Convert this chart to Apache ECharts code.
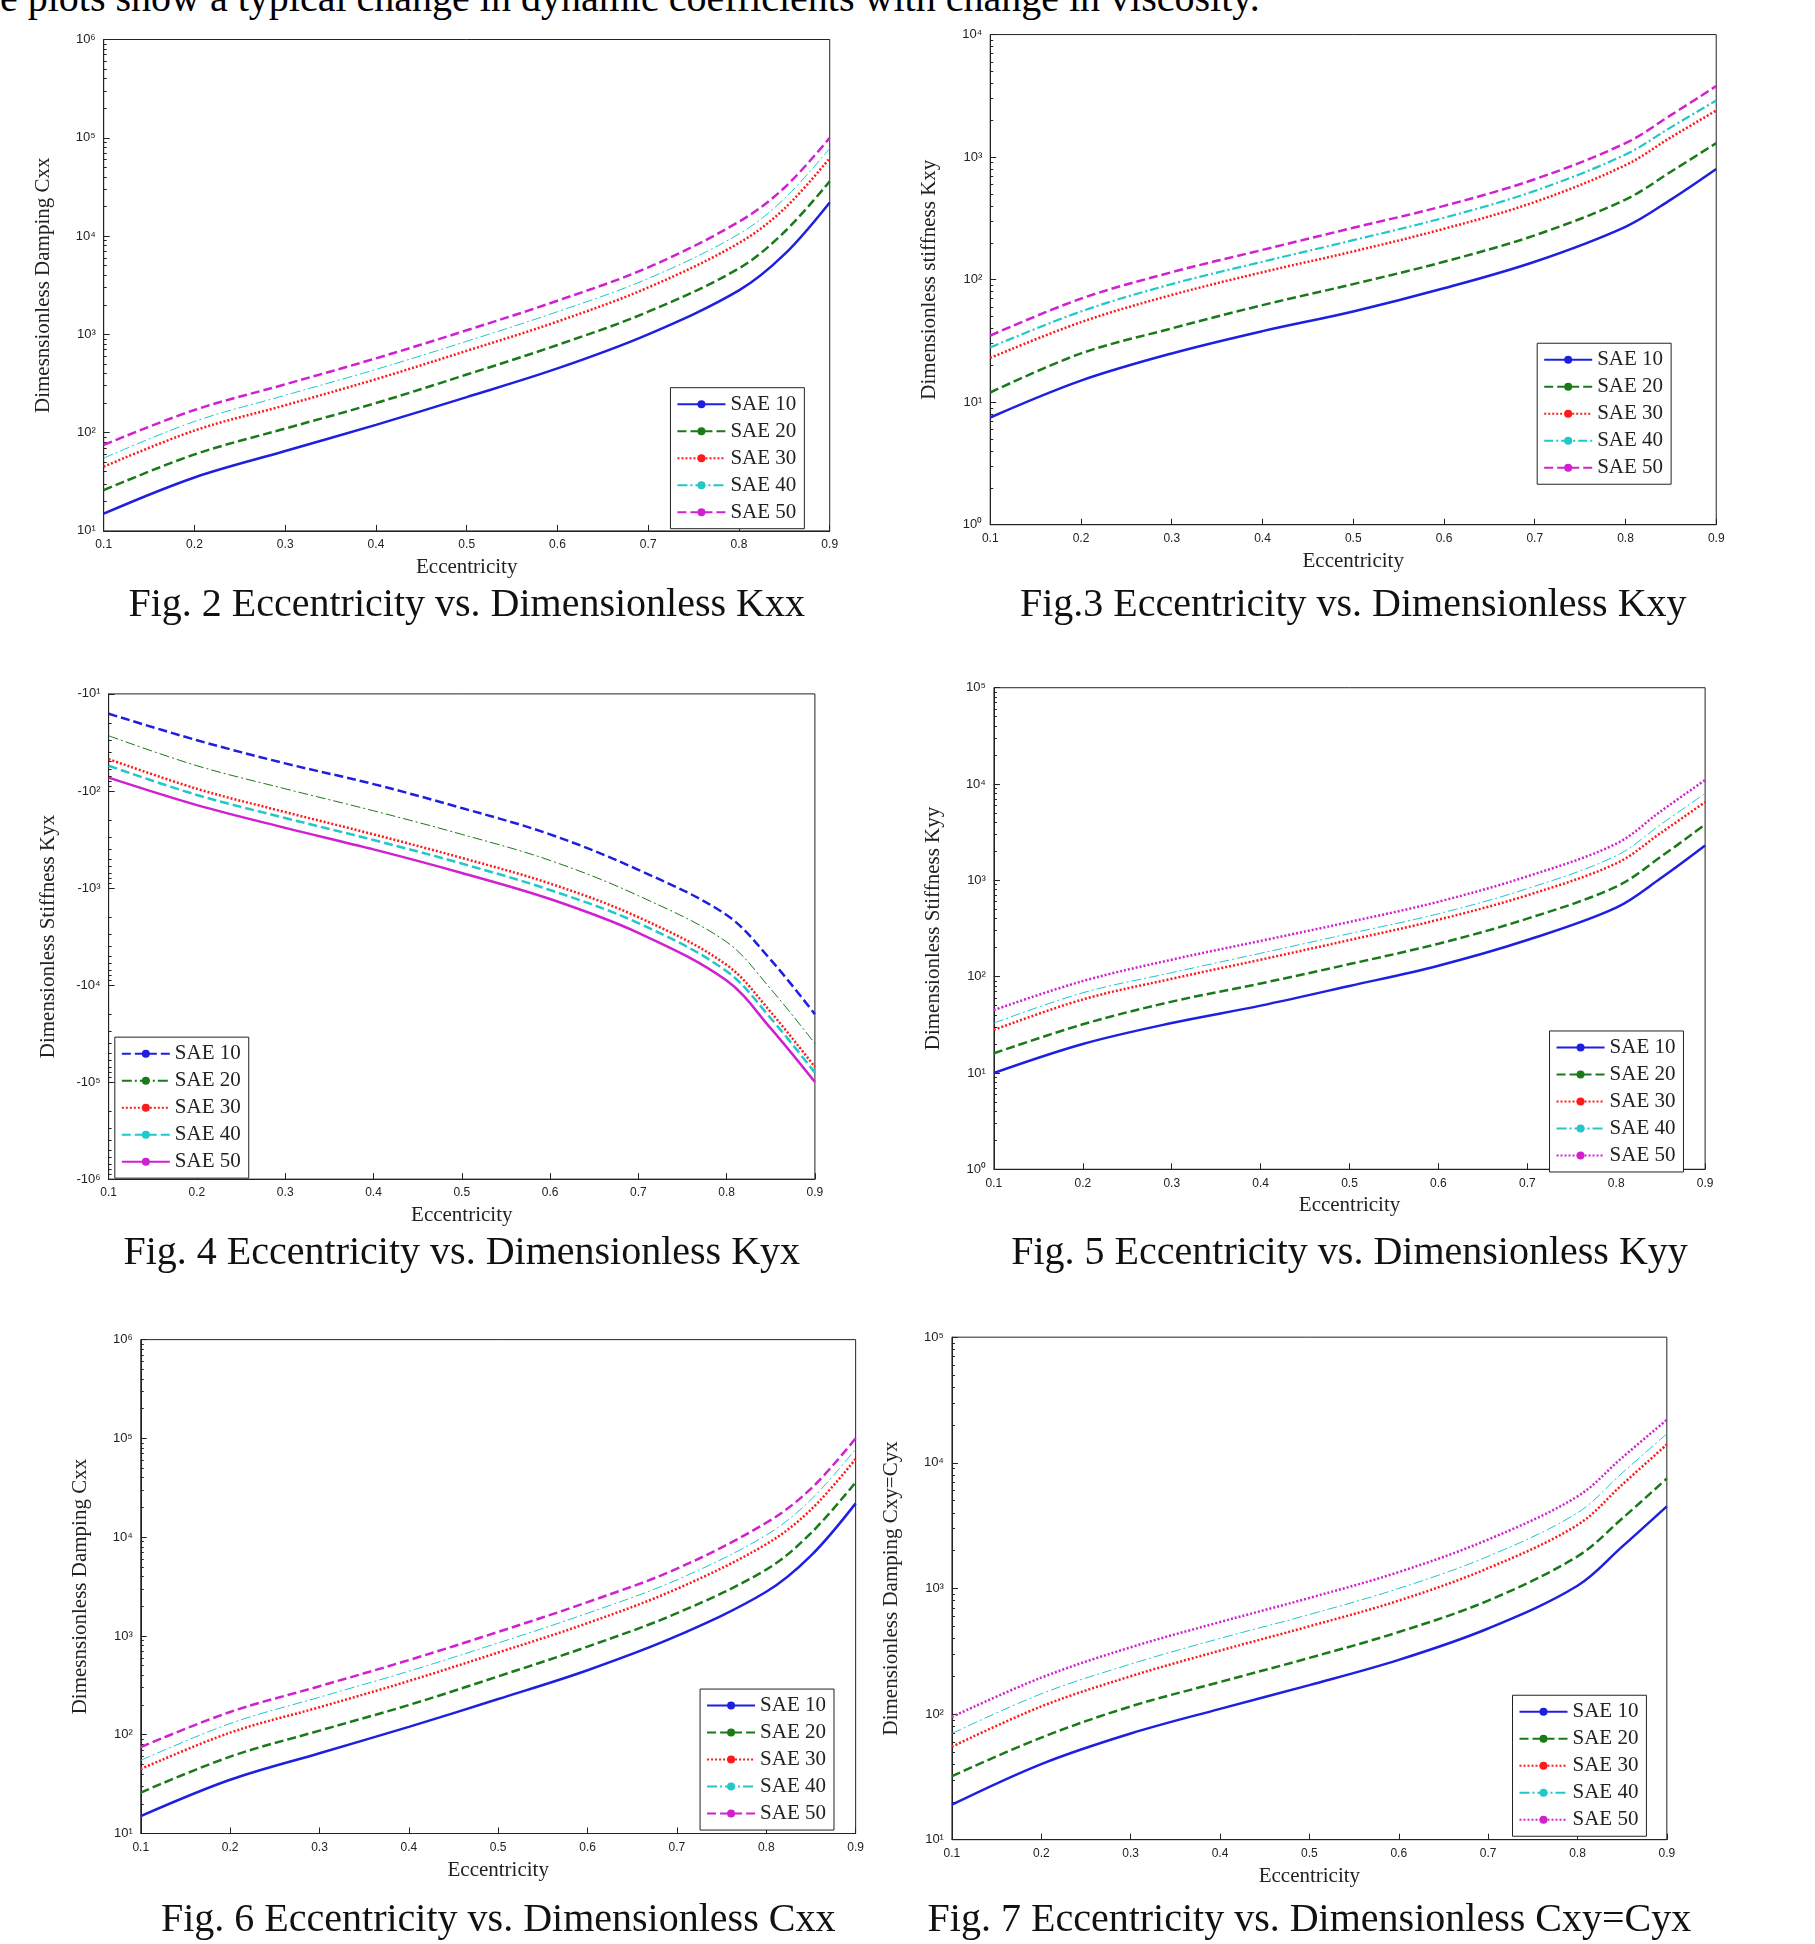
<!DOCTYPE html>
<html><head><meta charset="utf-8">
<script src="https://cdn.jsdelivr.net/npm/echarts@6/dist/echarts.min.js"></script>
<style>html,body{margin:0;background:#fff;width:1815px;height:1944px;overflow:hidden}
.c{position:absolute;left:0;top:0;width:1815px;height:1944px}
#t{position:absolute;left:0;top:-26px;font:40px "Liberation Serif";white-space:nowrap}</style>
</head><body>
<div id="t">e plots show a typical change in dynamic coefficients with change in viscosity.</div>
<div class="c" id="c0"></div><div class="c" id="c1"></div><div class="c" id="c2"></div>
<div class="c" id="c3"></div><div class="c" id="c4"></div><div class="c" id="c5"></div>
<script>
const ecc = [0.1,0.2,0.3,0.4,0.5,0.6,0.7,0.8,0.85,0.9];
const names = ['SAE 10','SAE 20','SAE 30','SAE 40','SAE 50'];
// Fig 2 Cxx
const f2_10=[15,35,65,120,230,450,1000,2800,6500,22000];
const f2_20=[26,60,110,200,390,780,1700,4700,11000,36000];
const f2_30=[45,105,190,350,680,1350,3000,8500,19000,62000];
const f2_40=[55,130,240,440,850,1700,3700,10500,24000,78000];
const f2_50=[75,170,310,570,1100,2200,4800,14000,31000,100000];
// Fig 3 Kxy
const f3_10=[7.5,15,25,38,55,85,140,270,450,800];
const f3_20=[12,25,40,62,92,140,230,450,760,1300];
const f3_30=[23,45,75,115,170,260,430,860,1450,2400];
const f3_40=[28,55,92,140,210,320,530,1050,1750,2900];
const f3_50=[35,70,115,175,265,400,660,1300,2200,3800];
// Fig 4 Kyx (magnitude of negative values)
const f4_10=[16,30,52,85,150,280,650,1900,5500,20000];
const f4_20=[27,55,95,160,280,520,1200,3600,11000,40000];
const f4_30=[47,95,165,280,490,900,2000,6200,19000,70000];
const f4_40=[55,110,190,320,560,1050,2300,7200,22000,80000];
const f4_50=[73,140,240,400,700,1300,2900,9000,28000,100000];
// Fig 5 Kyy
const f5_10=[10,20,33,50,80,130,240,520,1050,2300];
const f5_20=[16,32,55,85,135,220,400,860,1750,3800];
const f5_30=[28,58,95,150,240,390,700,1500,3100,6500];
const f5_40=[33,68,110,175,280,450,820,1800,3800,8000];
const f5_50=[45,90,150,235,370,600,1100,2400,5200,11000];
// Fig 6 Cxx
const f6_10=[15,35,65,120,230,450,1000,2800,6500,22000];
const f6_20=[26,60,110,200,390,780,1700,4700,11000,36000];
const f6_30=[45,105,190,350,680,1350,3000,8500,19000,62000];
const f6_40=[55,130,240,440,850,1700,3700,10500,24000,78000];
const f6_50=[75,170,310,570,1100,2200,4800,14000,31000,100000];
// Fig 7 Cxy=Cyx
const f7_10=[19,40,70,110,170,270,480,1050,2150,4500];
const f7_20=[32,65,115,180,280,450,800,1800,3600,7500];
const f7_30=[55,115,200,320,500,800,1450,3200,6700,14000];
const f7_40=[70,145,250,400,620,1000,1800,4000,8300,17000];
const f7_50=[95,195,340,540,840,1350,2450,5400,11000,22000];

const S=1815/1470;
const B='#1f1fe0',G='#1a7a1a',R='#ff1a1a',C='#20c8c8',M='#d020d0';
const st={
 solid:(c)=>({color:c,width:2.5,type:'solid'}),
 dash:(c)=>({color:c,width:2.5,type:[9,4]}),
 dot:(c)=>({color:c,width:2.5,type:[2,2]}),
 thin:(c)=>({color:c,width:1,type:[10,3,2,3]}),
 dd:(c)=>({color:c,width:2.2,type:[9,3,2,3]})
};
const sup=['⁰','¹','²','³','⁴','⁵','⁶'];
const capY={c0:585,c1:585,c2:1233,c3:1233,c4:1900,c5:1900};
function make(id,box,ymin,ymax,data,styles,yname,legBox,caption,neg){
 const ch=echarts.init(document.getElementById(id));
 const [x0,y0,x1,y1]=box.map(v=>v*S);
 const series=data.map((d,i)=>({name:names[i],type:'line',smooth:0.35,symbol:'none',
   data:ecc.map((x,j)=>[x,d[j]]),lineStyle:styles[i],itemStyle:{color:styles[i].color}}));
 const ax={axisLine:{lineStyle:{color:'#222'}},axisTick:{inside:true,length:6,lineStyle:{color:'#222'}},
   splitLine:{show:false}};
 ch.setOption({
  animation:false,
  grid:{left:x0,top:y0,width:x1-x0,height:y1-y0,show:true,borderColor:'#222',borderWidth:1},
  xAxis:{type:'value',min:0.1,max:0.9,interval:0.1,...ax,
   axisLabel:{fontFamily:'Liberation Sans',fontSize:12,color:'#222',formatter:v=>(+v.toFixed(1)).toString()},
   name:'Eccentricity',nameLocation:'middle',nameGap:26,nameTextStyle:{fontFamily:'Liberation Serif',fontSize:21,color:'#222'}},
  yAxis:{type:'log',logBase:10,min:ymin,max:ymax,inverse:!!neg,...ax,
   minorTick:{show:true,splitNumber:9,length:3},
   axisLabel:{fontFamily:'Liberation Sans',fontSize:13,color:'#222',
     formatter:v=>(neg?'-':'')+'10'+sup[Math.round(Math.log10(v))]},
   name:yname,nameLocation:'middle',nameGap:50,nameRotate:90,
   nameTextStyle:{fontFamily:'Liberation Serif',fontSize:21,color:'#222'}},
  legend:{orient:'vertical',left:legBox[0]*S,top:legBox[1]*S,itemWidth:48,itemHeight:10,itemGap:6,
   backgroundColor:'#fff',borderColor:'#222',borderWidth:1,padding:[6,8,6,6],
   textStyle:{fontFamily:'Liberation Serif',fontSize:21,color:'#222'},
   data:names},
  graphic:[{type:'text',x:(x0+x1)/2,y:capY[id],style:{text:caption,font:'40px "Liberation Serif"',fill:'#111',align:'center'}}],
  series
 });
}
make('c0',[84,32,672,430],10,1e6,[f2_10,f2_20,f2_30,f2_40,f2_50],
 [st.solid(B),st.dash(G),st.dot(R),st.thin(C),st.dash(M)],'Dimesnsionless Damping Cxx',[543,314],'Fig. 2 Eccentricity vs. Dimensionless Kxx');
make('c1',[802,28,1390,425],1,1e4,[f3_10,f3_20,f3_30,f3_40,f3_50],
 [st.solid(B),st.dash(G),st.dot(R),st.dd(C),st.dash(M)],'Dimensionless stiffness Kxy',[1245,278],'Fig.3 Eccentricity vs. Dimensionless Kxy');
make('c2',[88,562,660,955],10,1e6,[f4_10,f4_20,f4_30,f4_40,f4_50],
 [st.dash(B),st.thin(G),st.dot(R),st.dash(C),st.solid(M)],'Dimensionless Stiffness Kyx',[93,840],'Fig. 4 Eccentricity vs. Dimensionless Kyx',true);
make('c3',[805,557,1381,947],1,1e5,[f5_10,f5_20,f5_30,f5_40,f5_50],
 [st.solid(B),st.dash(G),st.dot(R),st.thin(C),st.dot(M)],'Dimensionless Stiffness Kyy',[1255,835],'Fig. 5 Eccentricity vs. Dimensionless Kyy');
make('c4',[114,1085,693,1485],10,1e6,[f6_10,f6_20,f6_30,f6_40,f6_50],
 [st.solid(B),st.dash(G),st.dot(R),st.thin(C),st.dash(M)],'Dimesnsionless Damping Cxx',[567,1368],'Fig. 6 Eccentricity vs. Dimensionless Cxx');
make('c5',[771,1083,1350,1490],10,1e5,[f7_10,f7_20,f7_30,f7_40,f7_50],
 [st.solid(B),st.dash(G),st.dot(R),st.thin(C),st.dot(M)],'Dimensionless Damping Cxy=Cyx',[1225,1373],'Fig. 7 Eccentricity vs. Dimensionless Cxy=Cyx');
</script></body></html>
